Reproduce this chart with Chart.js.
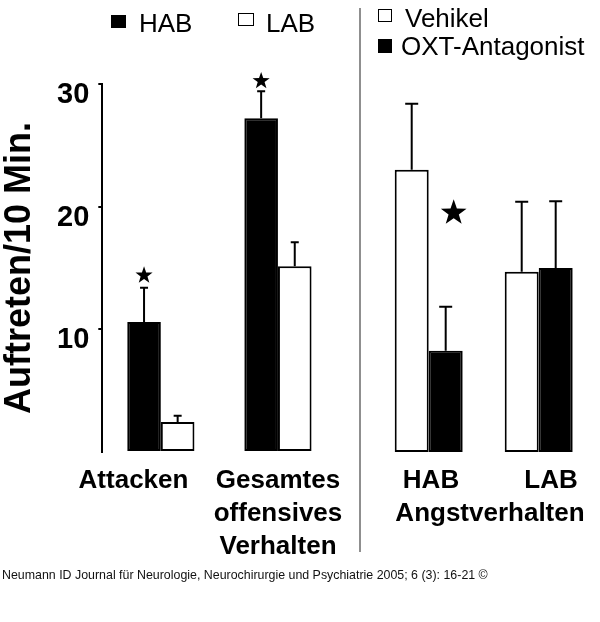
<!DOCTYPE html>
<html><head><meta charset="utf-8">
<script src="https://cdn.jsdelivr.net/npm/chart.js@4.4.0/dist/chart.umd.min.js"></script>
<style>
html,body{margin:0;padding:0;background:#fff;}
#wrap{position:relative;width:600px;height:622px;overflow:hidden;font-family:"Liberation Sans",Arial,sans-serif;color:#000;}
canvas{position:absolute;top:0;}
#c1{left:0;}
#c2{left:360px;}
.t{position:absolute;white-space:nowrap;}
.leg{font-size:26px;line-height:26px;}
.cat{font-size:26px;line-height:33px;font-weight:bold;text-align:center;width:300px;}
.sq{position:absolute;box-sizing:border-box;border:1.5px solid #000;}
#divider{position:absolute;left:359px;top:8px;width:2px;height:544px;background:#8f8f8f;}
#foot{position:absolute;left:2px;top:568px;font-size:12.4px;line-height:15px;color:#111;white-space:nowrap;}
</style></head>
<body>
<div id="wrap">
<canvas id="c1" width="360" height="622"></canvas>
<canvas id="c2" width="240" height="622"></canvas>
<div id="divider"></div>
<div id="labels"></div>
<div id="foot"></div>
</div>
<script>
// ---- data ----
const aggCategories = ['Attacken', ['Gesamtes', 'offensives', 'Verhalten']];
const aggHAB = [10.6, 27.2];
const aggHABErr = [2.8, 2.2];
const aggHABStars = [14.4, 30.25];
const aggLAB = [2.45, 15.15];
const aggLABErr = [0.5, 1.95];

const angCategories = ['HAB', 'LAB'];
const angGroupTitle = 'Angstverhalten';
const angVehikel = [23.0, 14.7];
const angVehikelErr = [5.4, 5.7];
const angOXT = [8.25, 15.0];
const angOXTErr = [3.6, 5.45];
const angOXTStars = [19.5, null];

const yTicks = [0, 10, 20, 30];
const yTitle = 'Auftreten/10 Min.';
const legendLeft = ['HAB', 'LAB'];
const legendRight = ['Vehikel', 'OXT-Antagonist'];
const footerText = 'Neumann ID Journal für Neurologie, Neurochirurgie und Psychiatrie 2005; 6 (3): 16-21 ©';

// ---- plugin: error bars + stars ----
function drawStar(ctx, cx, cy, r) {
  ctx.beginPath();
  for (let k = 0; k < 10; k++) {
    const rad = (k % 2 === 0) ? r : r * 0.4;
    const a = -Math.PI / 2 + k * Math.PI / 5;
    const px = cx + rad * Math.cos(a), py = cy + rad * Math.sin(a);
    if (k === 0) ctx.moveTo(px, py); else ctx.lineTo(px, py);
  }
  ctx.closePath();
  ctx.fillStyle = '#000';
  ctx.fill();
}
const errStars = {
  id: 'errStars',
  afterDatasetsDraw(chart, args, opts) {
    const ctx = chart.ctx, ys = chart.scales.y;
    chart.data.datasets.forEach((ds, di) => {
      const meta = chart.getDatasetMeta(di);
      meta.data.forEach((bar, i) => {
        const e = ds.errors ? ds.errors[i] : null;
        if (e != null) {
          const top = ys.getPixelForValue(ds.data[i] + e);
          ctx.save();
          ctx.strokeStyle = '#000';
          ctx.lineWidth = 2;
          ctx.beginPath();
          ctx.moveTo(bar.x, bar.y);
          ctx.lineTo(bar.x, top);
          ctx.moveTo(bar.x - opts.cap / 2, top);
          ctx.lineTo(bar.x + opts.cap / 2, top);
          ctx.stroke();
          ctx.restore();
        }
        const s = ds.stars ? ds.stars[i] : null;
        if (s != null) drawStar(ctx, bar.x + opts.starDx, ys.getPixelForValue(s), opts.starR);
      });
    });
  }
};

const barStyle = {borderColor: '#000', borderWidth: 2, borderSkipped: false};

// ---- left chart ----
new Chart(document.getElementById('c1'), {
  type: 'bar',
  data: {
    labels: aggCategories,
    datasets: [
      Object.assign({label: legendLeft[0], data: aggHAB, errors: aggHABErr, stars: aggHABStars, backgroundColor: '#000'}, barStyle),
      Object.assign({label: legendLeft[1], data: aggLAB, errors: aggLABErr, backgroundColor: '#fff'}, barStyle)
    ]
  },
  plugins: [errStars],
  options: {
    responsive: false,
    animation: false,
    layout: {padding: {left: 0, right: 23.5, top: 84, bottom: 170}},
    categoryPercentage: 0.574,
    barPercentage: 1.0,
    plugins: {
      legend: {display: false},
      tooltip: {enabled: false},
      errStars: {cap: 8, starR: 9, starDx: 0}
    },
    scales: {
      x: {display: false},
      y: {
        min: 0, max: 30,
        afterFit: (s) => { s.width = 102.3; },
        afterBuildTicks: (s) => { s.ticks = yTicks.map(v => ({value: v})); },
        ticks: {
          color: '#000',
          font: {family: '"Liberation Sans", Arial, sans-serif', size: 29, weight: 'bold'},
          padding: 9,
          labelOffset: 11,
          callback: (v) => v === 0 ? '' : String(v)
        },
        grid: {
          drawOnChartArea: false, drawTicks: true, tickLength: 4, lineWidth: 2,
          color: (c) => (c.tick && c.tick.value === 0) ? 'rgba(0,0,0,0)' : '#000'
        },
        border: {display: true, color: '#000', width: 2},
        title: {
          display: true, text: yTitle, color: '#000', padding: 0,
          font: {family: '"Liberation Sans", Arial, sans-serif', size: 36, weight: 'bold', lineHeight: 1.13}
        }
      }
    }
  }
});

// ---- right chart ----
new Chart(document.getElementById('c2'), {
  type: 'bar',
  data: {
    labels: angCategories,
    datasets: [
      Object.assign({label: legendRight[0], data: angVehikel, errors: angVehikelErr, backgroundColor: '#fff'}, barStyle),
      Object.assign({label: legendRight[1], data: angOXT, errors: angOXTErr, stars: angOXTStars, backgroundColor: '#000'}, barStyle)
    ]
  },
  plugins: [errStars],
  options: {
    responsive: false,
    animation: false,
    layout: {padding: {left: 13.7, right: 6.3, top: 84, bottom: 170}},
    categoryPercentage: 0.618,
    barPercentage: 1.0,
    plugins: {
      legend: {display: false},
      tooltip: {enabled: false},
      errStars: {cap: 13, starR: 13.5, starDx: 8}
    },
    scales: {
      x: {display: false},
      y: {display: false, min: 0, max: 30}
    }
  }
});

// ---- text: legends, category labels, footer ----
const L = document.getElementById('labels');
function addText(txt, cls, left, top, extra) {
  const d = document.createElement('div');
  d.className = 't ' + cls;
  d.style.left = left + 'px';
  d.style.top = top + 'px';
  if (extra) Object.assign(d.style, extra);
  d.innerHTML = Array.isArray(txt) ? txt.join('<br>') : txt;
  L.appendChild(d);
}
function addSquare(left, top, w, h, filled) {
  const d = document.createElement('div');
  d.className = 'sq';
  d.style.left = left + 'px'; d.style.top = top + 'px';
  d.style.width = w + 'px'; d.style.height = h + 'px';
  d.style.background = filled ? '#000' : '#fff';
  L.appendChild(d);
}
// left legend
addSquare(111, 15, 15, 13, true);
addText(legendLeft[0], 'leg', 139, 10);
addSquare(238, 13, 16, 13, false);
addText(legendLeft[1], 'leg', 266, 10);
// right legend
addSquare(378, 9, 14, 13, false);
addText(legendRight[0], 'leg', 405, 5);
addSquare(378, 39, 14, 14, true);
addText(legendRight[1], 'leg', 401, 33);
// category labels
addText(aggCategories[0], 'cat', 133.5 - 150, 462.5);
addText(aggCategories[1], 'cat', 278 - 150, 462.5);
addText(angCategories[0], 'cat', 431 - 150, 462.5);
addText(angCategories[1], 'cat', 551 - 150, 462.5);
addText(angGroupTitle, 'cat', 490 - 150, 495.5);
document.getElementById('foot').textContent = footerText;
</script>
</body></html>
